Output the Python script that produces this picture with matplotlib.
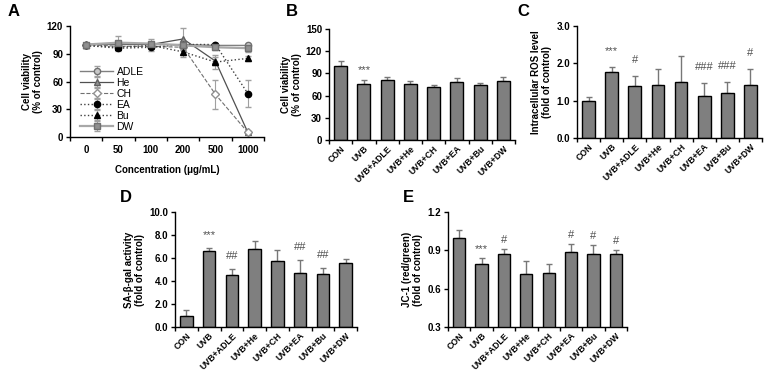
import matplotlib
matplotlib.use("Agg")
from matplotlib import pyplot as plt
import numpy as np

plt.rcParams['font.family'] = ['Liberation Sans', 'DejaVu Sans']
plt.rcParams['font.weight'] = 'bold'
plt.rcParams['axes.labelweight'] = 'bold'

# panel A data
conc = ['0', '50', '100', '200', '500', '1000']
adle = [100, 100, 100, 100, 99, 99]
adle_err = [2, 2, 2, 2, 2, 2]
he = [100, 101, 100, 106, 82, 5]
he_err = [2, 3, 3, 12, 4, 1]
ch = [100, 98, 98, 97, 46, 5]
ch_err = [2, 3, 3, 3, 16, 2]
ea = [99, 96, 97, 100, 100, 47]
ea_err = [2, 3, 4, 2, 2, 15]
bu = [99, 97, 99, 92, 81, 85]
bu_err = [2, 3, 3, 6, 8, 3]
dw = [100, 102, 101, 99, 97, 96]
dw_err = [2, 7, 5, 4, 3, 4]

groups = ['CON', 'UVB', 'UVB+ADLE', 'UVB+He', 'UVB+CH', 'UVB+EA', 'UVB+Bu', 'UVB+DW']

# panel B
via = [100, 76, 81, 76, 71, 78, 74, 80]
via_err = [7, 4.5, 4.5, 4, 3, 6, 3, 5]
via_sig = ['', '***', '', '', '', '', '', '']
# panel C
ros = [1.0, 1.77, 1.39, 1.43, 1.50, 1.12, 1.20, 1.41]
ros_err = [0.11, 0.13, 0.26, 0.41, 0.69, 0.34, 0.30, 0.43]
ros_sig = ['', '***', '#', '', '', '###', '###', '#']
# panel D
sag = [0.95, 6.6, 4.56, 6.8, 5.76, 4.71, 4.65, 5.58]
sag_err = [0.53, 0.26, 0.47, 0.67, 0.93, 1.13, 0.44, 0.35]
sag_sig = ['', '***', '##', '', '', '##', '##', '']
# panel E
jc = [1.0, 0.796, 0.87, 0.715, 0.72, 0.885, 0.87, 0.872]
jc_err = [0.056, 0.042, 0.044, 0.099, 0.07, 0.063, 0.073, 0.028]
jc_sig = ['', '***', '#', '', '', '#', '#', '#']

W, H = 764, 373
fig = plt.figure(figsize=(W / 100, H / 100), dpi=100)


def px_axes(l, r, top, bot):
    return fig.add_axes([l / W, 1 - bot / H, (r - l) / W, (bot - top) / H])


def style(ax, n):
    for s in ['top', 'right']:
        ax.spines[s].set_visible(False)
    for s in ['left', 'bottom']:
        ax.spines[s].set_linewidth(1.0)
    ax.set_xlim(-0.5, n - 0.5)
    ax.set_xticks(np.arange(n))
    ax.set_xticks(np.arange(n + 1) - 0.5, minor=True)
    ax.tick_params(axis='x', which='major', length=0)
    ax.tick_params(axis='x', which='minor', length=3, width=1)
    ax.tick_params(axis='y', length=3, width=1, labelsize=7, pad=2)


def bar_panel(ax, vals, errs, sigs, ylim, yticks, fmt, ylabel, sig_off):
    x = np.arange(len(groups))
    ax.bar(x, vals, width=0.55, color='#7f7f7f', edgecolor='black', linewidth=1.0, zorder=2)
    ax.errorbar(x, vals, yerr=[np.zeros(len(vals)), errs], fmt='none',
                ecolor='#777777', elinewidth=1.0, capsize=2.5, capthick=1.0, zorder=1)
    for xi, v, e, s in zip(x, vals, errs, sigs):
        if s:
            ax.text(xi, v + e + sig_off, s, ha='center', va='bottom', fontsize=8,
                    color='#505050', fontweight='normal')
    style(ax, len(groups))
    ax.set_ylim(*ylim)
    ax.set_yticks(yticks)
    ax.set_yticklabels([fmt.format(t) for t in yticks])
    ax.set_xticklabels(groups, rotation=45, ha='right', rotation_mode='anchor', fontsize=6.3)
    ax.tick_params(axis='x', pad=3)
    ax.set_ylabel(ylabel, fontsize=7, labelpad=3, linespacing=1.1)


# A
axA = px_axes(70, 264, 26, 137)
xA = np.arange(len(conc))
series = [
    (adle, adle_err, 'ADLE', dict(color='#808080', ls='-', marker='o', mfc='#c8c8c8', mec='#707070', lw=1.0)),
    (he, he_err, 'He', dict(color='#505050', ls='-', marker='^', mfc='#909090', mec='#606060', lw=0.9)),
    (ch, ch_err, 'CH', dict(color='#707070', ls='--', marker='D', mfc='white', mec='#909090', lw=0.8, ms=4)),
    (ea, ea_err, 'EA', dict(color='#404040', ls=':', marker='o', mfc='black', mec='black', lw=1.0)),
    (bu, bu_err, 'Bu', dict(color='#404040', ls=':', marker='^', mfc='black', mec='black', lw=1.0)),
    (dw, dw_err, 'DW', dict(color='#a8a8a8', ls='-', marker='s', mfc='#909090', mec='#707070', lw=1.6)),
]
for vals, errs, lab, kw in series:
    kw.setdefault('ms', 4.5)
    axA.errorbar(xA, vals, yerr=errs, label=lab, capsize=2, elinewidth=0.8,
                 ecolor='#a0a0a0', **kw)
style(axA, len(conc))
axA.set_xticklabels(conc, fontsize=7)
axA.tick_params(axis='x', pad=6)
axA.set_ylim(0, 120)
axA.set_yticks([0, 30, 60, 90, 120])
axA.set_ylabel('Cell viability\n(% of control)', fontsize=7, labelpad=3, linespacing=1.1)
axA.set_xlabel('Concentration (\u03bcg/mL)', fontsize=7, labelpad=7)
leg = axA.legend(loc='upper left', bbox_to_anchor=(0.02, 0.69), frameon=False, fontsize=7.5,
                 handlelength=3.2, handletextpad=0.3, labelspacing=0.1, borderaxespad=0.2)
for t in leg.get_texts():
    t.set_fontweight('normal')

# B
axB = px_axes(329, 515, 29, 140)
bar_panel(axB, via, via_err, via_sig, (0, 150), [0, 30, 60, 90, 120, 150], '{:.0f}',
          'Cell viability\n(% of control)', 7)
# C
axC = px_axes(577, 762, 26, 138)
bar_panel(axC, ros, ros_err, ros_sig, (0, 3.0), [0, 1.0, 2.0, 3.0], '{:.1f}',
          'Intracellular ROS level\n(fold of control)', 0.3)
# D
axD = px_axes(175, 357, 212, 327)
bar_panel(axD, sag, sag_err, sag_sig, (0, 10.0), [0, 2, 4, 6, 8, 10], '{:.1f}',
          'SA-\u03b2-gal activity\n(fold of control)', 0.7)
# E
axE = px_axes(448, 627, 212, 327)
bar_panel(axE, jc, jc_err, jc_sig, (0.3, 1.2), [0.3, 0.6, 0.9, 1.2], '{:.1f}',
          'JC-1 (red/green)\n(fold of control)', 0.03)

# panel letters
for lab, px, py in [('A', 8, 4), ('B', 286, 4), ('C', 517, 4), ('D', 120, 190), ('E', 403, 190)]:
    fig.text(px / W, 1 - py / H, lab, fontsize=12, fontweight='bold', va='top', ha='left')

fig.savefig('out.png', dpi=100)
